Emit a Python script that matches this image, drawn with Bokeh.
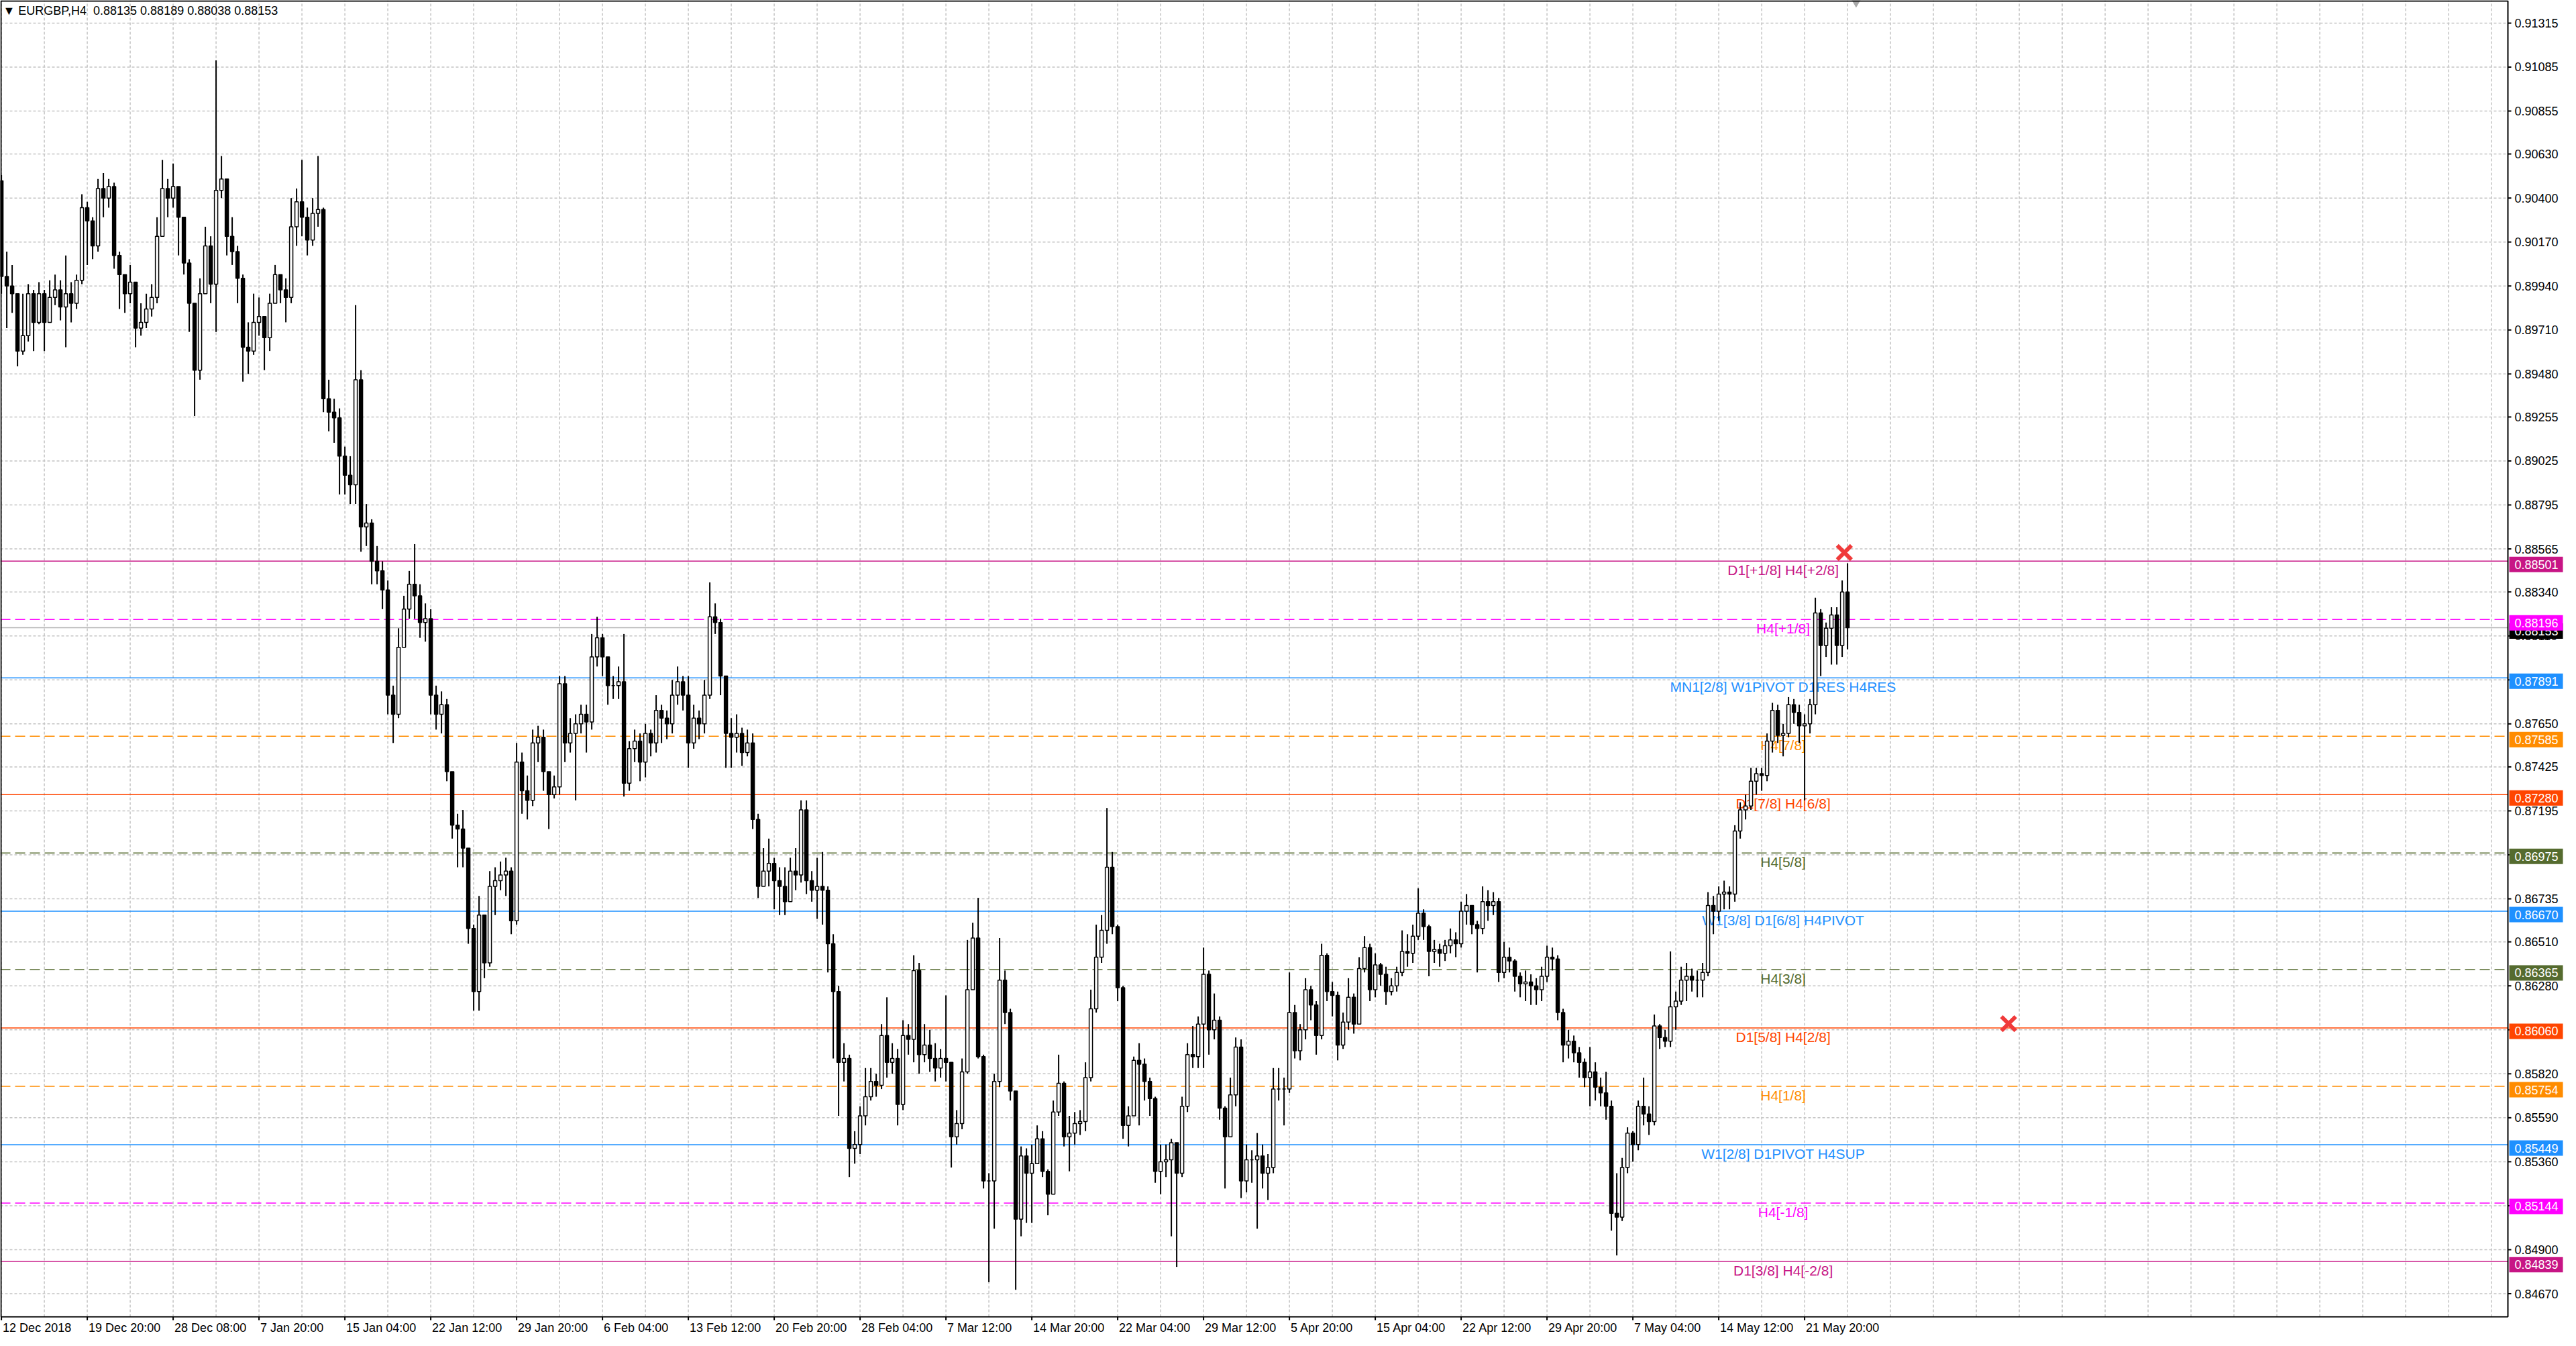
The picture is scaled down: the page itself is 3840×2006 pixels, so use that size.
from bokeh.plotting import figure
from bokeh.models import Range1d, ColumnDataSource
from bokeh.core.properties import value
from bokeh.embed import file_html
from bokeh.resources import INLINE

# EURGBP H4, one candle per two H4 bars, prices in pips (x 0.0001)
symbol_line = "\u25bc EURGBP,H4\u00a0 0.88135 0.88189 0.88038 0.88153"

first_open = 9049
closes = [
    8999, 8994, 8990, 8960, 8968, 8990, 8975, 8990, 8975, 8988,
    8992, 8983, 8990, 8985, 8997, 9035, 9028, 9015, 9045, 9040,
    9046, 9010, 9000, 8990, 8996, 8972, 8975, 8982, 8988, 9020,
    9045, 9040, 9046, 9030, 9006, 8985, 8950, 8990, 9015, 8995,
    9044, 9050, 9020, 9012, 8998, 8962, 8960, 8975, 8978, 8967,
    8985, 9000, 8992, 8988, 9025, 9038, 9030, 9018, 9032, 9034,
    8935, 8928, 8925, 8905, 8895, 8890, 8945, 8868, 8870, 8850,
    8845, 8835, 8780, 8770, 8805, 8825, 8838, 8832, 8818, 8820,
    8780, 8770, 8775, 8740, 8712, 8710, 8700, 8658, 8625, 8665,
    8640, 8680, 8683, 8686, 8688, 8662, 8745, 8730, 8725, 8755,
    8758, 8740, 8728, 8732, 8786, 8755, 8760, 8765, 8770, 8766,
    8800, 8810, 8800, 8785, 8785, 8787, 8734, 8752, 8756, 8745,
    8760, 8755, 8772, 8768, 8765, 8780, 8787, 8780, 8755, 8768,
    8765, 8780, 8821, 8818, 8790, 8760, 8758, 8760, 8750, 8755,
    8715, 8680, 8688, 8692, 8683, 8680, 8672, 8688, 8686, 8720,
    8683, 8678, 8680, 8678, 8650, 8625, 8588, 8590, 8543, 8545,
    8560, 8570, 8578, 8576, 8602, 8588, 8590, 8566, 8602, 8600,
    8636, 8592, 8597, 8590, 8585, 8590, 8588, 8549, 8556, 8583,
    8626, 8653, 8591, 8526, 8526, 8578, 8631, 8614, 8573, 8506,
    8539, 8530, 8535, 8548, 8531, 8519, 8562, 8577, 8549, 8551,
    8556, 8557, 8580, 8616, 8643, 8657, 8690, 8659, 8627, 8555,
    8560, 8589, 8587, 8578, 8569, 8531, 8536, 8537, 8546, 8530,
    8565, 8592, 8591, 8608, 8634, 8605, 8610, 8564, 8549, 8571,
    8596, 8526, 8537, 8537, 8539, 8530, 8533, 8574, 8574, 8574,
    8614, 8594, 8605, 8626, 8618, 8602, 8644, 8625, 8623, 8597,
    8609, 8622, 8608, 8637, 8648, 8626, 8639, 8634, 8625, 8628,
    8635, 8646, 8645, 8654, 8666, 8659, 8646, 8647, 8645, 8649,
    8652, 8650, 8667, 8670, 8660, 8658, 8672, 8670, 8672, 8635,
    8643, 8641, 8633, 8629, 8630, 8628, 8626, 8633, 8643, 8642,
    8614, 8597, 8599, 8593, 8588, 8580, 8583, 8575, 8572, 8565,
    8509, 8507, 8533, 8551, 8545, 8565, 8561, 8557, 8607, 8601,
    8599, 8617, 8620, 8631, 8633, 8631, 8631, 8635, 8670, 8667,
    8676, 8677, 8676, 8709, 8720, 8722, 8735, 8739, 8738, 8756,
    8772, 8759, 8760, 8775, 8771, 8764, 8765, 8775, 8823, 8806,
    8815, 8822, 8806, 8834, 8815.3,
]
highs = [
    9052, 9012, 9005, 8990, 8990, 8995, 8992, 8996, 8992, 8997,
    9000, 8997, 9010, 8996, 9000, 9042, 9038, 9030, 9050, 9053,
    9050, 9048, 9012, 9000, 9005, 8990, 8985, 8990, 8995, 9030,
    9060, 9050, 9058, 9045, 9020, 9008, 8975, 8998, 9025, 9020,
    9112, 9062, 9050, 9030, 9015, 9000, 8975, 8990, 8988, 8978,
    8990, 9005, 9000, 8998, 9040, 9045, 9060, 9035, 9040, 9062,
    9035, 8945, 8935, 8930, 8910, 8905, 8984, 8950, 8880, 8872,
    8858, 8850, 8840, 8785, 8815, 8832, 8845, 8859, 8838, 8828,
    8825, 8785, 8782, 8778, 8725, 8718, 8720, 8700, 8660, 8675,
    8655, 8688, 8690, 8693, 8695, 8690, 8755, 8750, 8738, 8762,
    8764, 8762, 8740, 8738, 8790, 8790, 8768, 8770, 8775, 8775,
    8812, 8821, 8812, 8800, 8790, 8795, 8812, 8756, 8762, 8760,
    8765, 8762, 8780, 8775, 8772, 8788, 8795, 8790, 8790, 8775,
    8772, 8788, 8839, 8828, 8820, 8790, 8768, 8770, 8763, 8762,
    8760, 8718, 8700, 8705, 8695, 8690, 8690, 8695, 8700, 8725,
    8725, 8688, 8695, 8698, 8680, 8655, 8628, 8598, 8592, 8552,
    8565, 8585, 8585, 8582, 8608, 8622, 8598, 8595, 8610, 8608,
    8644, 8640, 8608, 8605, 8598, 8595, 8623, 8585, 8563, 8590,
    8652, 8661, 8674, 8592, 8530, 8582, 8653, 8636, 8616, 8563,
    8544, 8543, 8545, 8555, 8552, 8532, 8568, 8592, 8578, 8560,
    8562, 8563, 8588, 8626, 8660, 8665, 8721, 8698, 8660, 8628,
    8565, 8591, 8598, 8590, 8580, 8570, 8545, 8545, 8548, 8546,
    8570, 8598, 8607, 8612, 8648, 8636, 8624, 8612, 8565, 8580,
    8601, 8600, 8545, 8542, 8551, 8545, 8540, 8585, 8585, 8580,
    8635, 8618, 8608, 8632, 8628, 8620, 8650, 8645, 8630, 8625,
    8614, 8632, 8624, 8643, 8654, 8650, 8645, 8640, 8638, 8632,
    8638, 8657, 8655, 8660, 8679, 8668, 8660, 8652, 8650, 8652,
    8658, 8656, 8672, 8676, 8670, 8662, 8680, 8678, 8677, 8674,
    8651, 8648, 8642, 8635, 8636, 8634, 8632, 8638, 8649, 8648,
    8644, 8616, 8605, 8602, 8596, 8590, 8596, 8588, 8580, 8583,
    8568, 8530, 8538, 8554, 8552, 8568, 8580, 8565, 8613, 8608,
    8605, 8646, 8625, 8638, 8640, 8637, 8636, 8640, 8677, 8675,
    8680, 8683, 8680, 8712, 8724, 8728, 8742, 8742, 8742, 8760,
    8776, 8775, 8765, 8779, 8778, 8775, 8770, 8778, 8831, 8825,
    8818, 8826, 8826, 8840, 8849,
]
lows = [
    8990, 8972, 8980, 8952, 8958, 8965, 8960, 8974, 8960, 8978,
    8984, 8976, 8962, 8975, 8982, 8995, 9005, 9008, 9012, 9030,
    9035, 9003, 8982, 8980, 8985, 8962, 8968, 8972, 8978, 8985,
    9020, 9030, 9035, 9010, 9000, 8970, 8926, 8945, 8990, 8985,
    8970, 9040, 9010, 9005, 8985, 8944, 8948, 8958, 8968, 8950,
    8960, 8985, 8985, 8975, 8985, 9015, 9020, 9010, 9015, 9025,
    8928, 8918, 8912, 8885, 8885, 8880, 8880, 8855, 8858, 8838,
    8838, 8825, 8770, 8755, 8768, 8810, 8820, 8820, 8810, 8808,
    8770, 8762, 8760, 8735, 8705, 8690, 8690, 8650, 8615, 8615,
    8632, 8638, 8665, 8678, 8675, 8655, 8660, 8718, 8715, 8722,
    8745, 8730, 8710, 8726, 8728, 8745, 8750, 8725, 8760, 8750,
    8762, 8795, 8790, 8775, 8778, 8778, 8727, 8730, 8745, 8735,
    8737, 8748, 8750, 8755, 8757, 8760, 8775, 8772, 8742, 8752,
    8757, 8760, 8778, 8812, 8780, 8742, 8742, 8750, 8743, 8748,
    8710, 8674, 8680, 8680, 8668, 8665, 8665, 8672, 8678, 8682,
    8676, 8672, 8663, 8660, 8635, 8590, 8560, 8578, 8528, 8535,
    8540, 8555, 8568, 8570, 8574, 8580, 8582, 8555, 8563, 8592,
    8588, 8582, 8588, 8583, 8578, 8580, 8578, 8533, 8545, 8553,
    8582, 8630, 8590, 8522, 8473, 8501, 8575, 8608, 8568, 8469,
    8497, 8504, 8504, 8535, 8528, 8508, 8519, 8560, 8544, 8531,
    8545, 8550, 8552, 8578, 8614, 8640, 8650, 8655, 8620, 8548,
    8544, 8560, 8555, 8568, 8560, 8525, 8519, 8528, 8497, 8481,
    8528, 8562, 8585, 8585, 8585, 8592, 8600, 8558, 8522, 8550,
    8565, 8517, 8520, 8525, 8501, 8522, 8516, 8530, 8568, 8555,
    8572, 8590, 8589, 8600, 8610, 8592, 8600, 8620, 8612, 8589,
    8595, 8605, 8603, 8614, 8635, 8620, 8622, 8628, 8618, 8623,
    8625, 8633, 8638, 8640, 8652, 8652, 8633, 8640, 8638, 8641,
    8645, 8643, 8648, 8660, 8655, 8635, 8655, 8662, 8665, 8630,
    8632, 8635, 8625, 8622, 8620, 8618, 8618, 8620, 8630, 8636,
    8610, 8588, 8590, 8588, 8580, 8575, 8565, 8568, 8565, 8558,
    8500, 8487, 8505, 8530, 8536, 8542, 8555, 8550, 8555, 8595,
    8596, 8596, 8605, 8618, 8620, 8625, 8622, 8622, 8633, 8655,
    8662, 8668, 8668, 8672, 8705, 8715, 8720, 8728, 8730, 8735,
    8750, 8755, 8748, 8758, 8765, 8755, 8725, 8760, 8770, 8790,
    8800, 8796, 8796, 8800, 8804,
]

price_ticks = [0.91315, 0.91085, 0.90855, 0.90630, 0.90400, 0.90170, 0.89940, 0.89710,
               0.89480, 0.89255, 0.89025, 0.88795, 0.88565, 0.88340, 0.88110, 0.87880,
               0.87650, 0.87425, 0.87195, 0.86965, 0.86735, 0.86510, 0.86280, 0.86050,
               0.85820, 0.85590, 0.85360, 0.85130, 0.84900, 0.84670]

time_labels = ["12 Dec 2018", "19 Dec 20:00", "28 Dec 08:00", "7 Jan 20:00", "15 Jan 04:00",
               "22 Jan 12:00", "29 Jan 20:00", "6 Feb 04:00", "13 Feb 12:00", "20 Feb 20:00",
               "28 Feb 04:00", "7 Mar 12:00", "14 Mar 20:00", "22 Mar 04:00", "29 Mar 12:00",
               "5 Apr 20:00", "15 Apr 04:00", "22 Apr 12:00", "29 Apr 20:00", "7 May 04:00",
               "14 May 12:00", "21 May 20:00"]
label_step = 16  # candles between time labels

levels = [0.88501, 0.88196, 0.87891, 0.87585, 0.87280, 0.86975, 0.86670,
          0.86365, 0.86060, 0.85754, 0.85449, 0.85144, 0.84839]
level_names = ["D1[+1/8] H4[+2/8]", "H4[+1/8]", "MN1[2/8] W1PIVOT D1RES H4RES", "H4[7/8]",
               "D1[7/8] H4[6/8]", "H4[5/8]", "W1[3/8] D1[6/8] H4PIVOT", "H4[3/8]",
               "D1[5/8] H4[2/8]", "H4[1/8]", "W1[2/8] D1PIVOT H4SUP", "H4[-1/8]", "D1[3/8] H4[-2/8]"]
level_colors = ["#C71585", "#FF00FF", "#1E90FF", "#FF8C00", "#FF4500", "#556B2F", "#1E90FF",
                "#556B2F", "#FF4500", "#FF8C00", "#1E90FF", "#FF00FF", "#C71585"]
level_dashed = [False, True, False, True, False, True, False, True, False, True, False, True, False]
bid = 0.88153

cross_idx = [343.4, 374.0]
cross_price = [0.88546, 0.86082]

# ---- layout: one frame over the whole canvas, chart area + price scale + time scale
W, H = 3824, 1990
FW, FH = 3738, 1962          # chart area in px
ppx = 1 / 8                  # candles per px
x0 = -0.2
xr = x0 + FW * ppx           # right edge of the chart area
y1, yb = 0.91434, 0.84549    # top / bottom price of the chart area
ppp = (y1 - yb) / FH         # price per px
text_x = 332

p = figure(width=W, height=H, x_range=Range1d(x0, x0 + W * ppx), y_range=Range1d(y1 - H * ppp, y1),
           x_axis_location=None, y_axis_location=None, output_backend="svg",
           toolbar_location=None, min_border=0)
p.background_fill_color = "white"
p.border_fill_color = "white"
p.outline_line_color = None
p.grid.visible = False

# grid
vgrid = list(range(0, int(xr), 8))
p.segment(x0=vgrid, x1=vgrid, y0=[yb] * len(vgrid), y1=[y1] * len(vgrid),
          line_color="#c4c4c4", line_width=1.5, line_dash="4 3")
p.segment(x0=[x0] * len(price_ticks), x1=[xr] * len(price_ticks), y0=price_ticks, y1=price_ticks,
          line_color="#c4c4c4", line_width=1.5, line_dash="4 3")

# level lines, bid line, level texts (behind candles)
solid = [lv for lv, d in zip(levels, level_dashed) if not d]
solid_c = [c for c, d in zip(level_colors, level_dashed) if not d]
dashed = [lv for lv, d in zip(levels, level_dashed) if d]
dashed_c = [c for c, d in zip(level_colors, level_dashed) if d]
p.segment(x0=[x0], x1=[xr], y0=[bid], y1=[bid], line_color="#b4b4b4", line_width=1.5)
p.segment(x0=[x0] * len(solid), x1=[xr] * len(solid), y0=solid, y1=solid,
          line_color=solid_c, line_width=1.5)
p.segment(x0=[x0] * len(dashed), x1=[xr] * len(dashed), y0=dashed, y1=dashed,
          line_color=dashed_c, line_width=1.5, line_dash="15 7")

p.text(x=[text_x] * len(levels), y=[lv - 2 * ppp for lv in levels], text=level_names,
       text_color=level_colors, text_align="center", text_baseline="top",
       text_font=value("Liberation Sans"), text_font_size="21px")

# candles
opens = [first_open] + closes[:-1]
idx = list(range(len(closes)))
o = [v / 10000 for v in opens]
c = [v / 10000 for v in closes]
hi = [max(h / 10000, a, b) for h, a, b in zip(highs, o, c)]
lo = [min(l / 10000, a, b) for l, a, b in zip(lows, o, c)]
fill = ["black" if cc < oo else "white" for oo, cc in zip(o, c)]
src = ColumnDataSource(dict(x=idx, o=o, c=c, hi=hi, lo=lo, fill=fill))
p.segment(x0="x", y0="hi", x1="x", y1="lo", source=src, line_color="black", line_width=2)
p.vbar(x="x", width=0.62, top="o", bottom="c", source=src, fill_color="fill",
       line_color="black", line_width=1.5)

# markers
p.scatter(cross_idx, cross_price, marker="x", size=30, line_width=6, line_color="#F03A3A")
p.scatter([345.6], [y1 - 3 * ppp], marker="inverted_triangle", size=14,
          fill_color="#a8a8a8", line_color=None)

# chart border
p.quad(left=[x0 + ppx], right=[xr], bottom=[yb], top=[y1 - ppp], fill_color=None,
       line_color="black", line_width=2)

# symbol line
p.text(x=[0.3], y=[y1 - 5 * ppp], text=[symbol_line], text_baseline="top",
       text_font=value("Liberation Sans"), text_font_size="18px", text_color="black")

# price scale
n = len(price_ticks)
p.segment(x0=[xr] * n, x1=[xr + 5 * ppx] * n, y0=price_ticks, y1=price_ticks,
          line_color="black", line_width=2)
p.text(x=[xr + 10 * ppx] * n, y=price_ticks, text=["%.5f" % t for t in price_ticks],
       text_align="left", text_baseline="middle", text_font=value("Liberation Sans"),
       text_font_size="18px", text_color="black")


def price_tags(prices, colors):
    ty = [t - 5 * ppp for t in prices]
    p.rect(x=[xr + 42 * ppx] * len(prices), y=ty, width=80, height=23,
           width_units="screen", height_units="screen", fill_color=colors, line_color=None)
    p.text(x=[xr + 10 * ppx] * len(prices), y=ty, text=["%.5f" % t for t in prices],
           text_align="left", text_baseline="middle", text_font=value("Liberation Sans"),
           text_font_size="18px", text_color="white")


# bid tag first, level tags drawn over it
price_tags([bid], ["black"])
price_tags(levels, level_colors)

# time scale
label_pos = [i * label_step for i in range(len(time_labels))]
p.segment(x0=label_pos, x1=label_pos, y0=[yb] * len(label_pos), y1=[yb - 5 * ppp] * len(label_pos),
          line_color="black", line_width=2)
p.text(x=[lp + 2 * ppx for lp in label_pos], y=[yb - 6 * ppp] * len(label_pos), text=time_labels,
       text_align="left", text_baseline="top", text_font=value("Liberation Sans"),
       text_font_size="18px", text_color="black")

open("out.html", "w").write(file_html(p, INLINE))
